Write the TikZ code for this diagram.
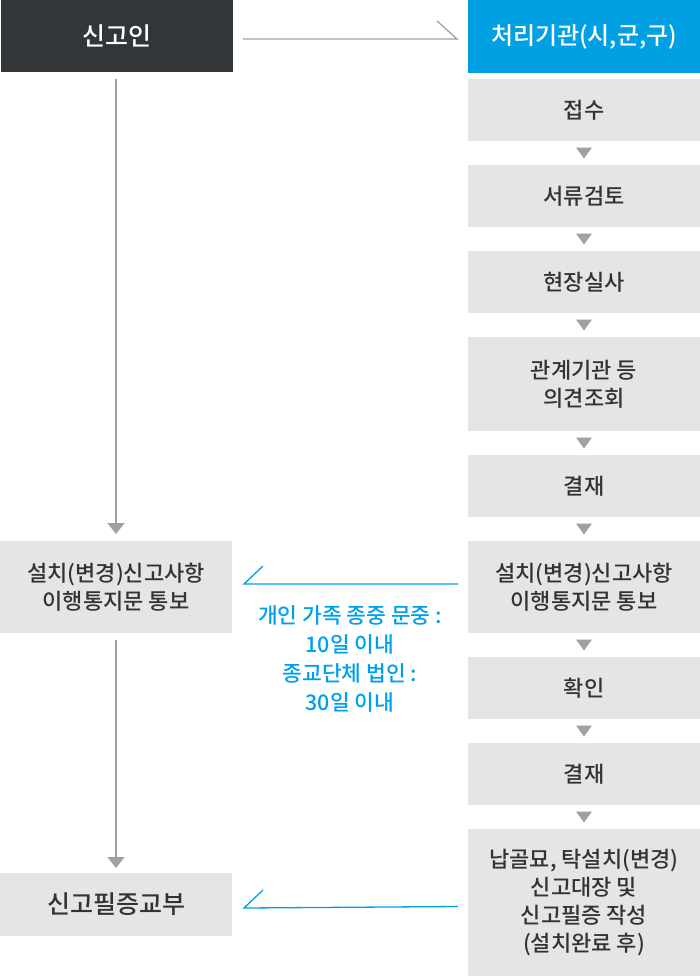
\documentclass[tikz,border=0pt]{standalone}
\usepackage{fontspec}
\setmainfont{Noto Sans CJK KR Medium}
\usetikzlibrary{arrows.meta,calc}
\definecolor{darkbox}{HTML}{333639}
\definecolor{bluebox}{HTML}{00A0E2}
\definecolor{graybox}{HTML}{E5E5E5}
\definecolor{arrowgray}{HTML}{A0A0A0}
\definecolor{txt}{HTML}{333333}
\definecolor{bluetxt}{HTML}{00A0E9}
\tikzset{
  box/.style={rectangle, inner sep=0pt, outer sep=0pt, minimum width=232pt, align=center,
    font=\fontsize{22}{28}\selectfont},
  titlebox/.style={box, text=white, font=\fontsize{24}{28}\selectfont},
  graystep/.style={box, fill=graybox, text=txt},
  garrow/.style={draw=arrowgray, line width=1.3pt, -{Triangle[width=17pt,length=11pt]}},
  gline/.style={draw=arrowgray, line width=1.3pt},
  bline/.style={draw=bluetxt, line width=1.3pt},
}
\newcommand{\downtri}[2]{\fill[arrowgray] ($(#1.south)!0.5!(#2.north)$) ++(-8,-5.5) -- ++(16,0) -- ++(-8,11) -- cycle;}
\begin{document}
\begin{tikzpicture}[x=1pt,y=-1pt]
\useasboundingbox (0,0) rectangle (700,980);
% top row
\node[titlebox, fill=darkbox, minimum height=72pt, font=\fontsize{25}{28}\selectfont] (sin) at (117,36) {신고인};
\node[titlebox, fill=bluebox, minimum height=73pt] (cheo) at (584,36.5) {처리기관(시,군,구)};
% right column
\node[graystep, minimum height=62pt] (r1) at (584,110) {접수};
\node[graystep, minimum height=62pt] (r2) at (584,196) {서류검토};
\node[graystep, minimum height=62pt] (r3) at (584,282) {현장실사};
\node[graystep, minimum height=94pt] (r4) at (584,384) {관계기관 등\\의견조회};
\node[graystep, minimum height=62pt] (r5) at (584,486) {결재};
\node[graystep, minimum height=92pt] (r6) at (584,587) {설치(변경)신고사항\\이행통지문 통보};
\node[graystep, minimum height=62pt] (r7) at (584,688) {확인};
\node[graystep, minimum height=62pt] (r8) at (584,774) {결재};
\node[graystep, minimum height=147pt] (r9) at (584,902.5) {납골묘, 탁설치(변경)\\신고대장 및\\신고필증 작성\\(설치완료 후)};
% left column
\node[graystep, minimum height=92pt] (l1) at (116,587) {설치(변경)신고사항\\이행통지문 통보};
\node[graystep, minimum height=63pt, font=\fontsize{25}{28}\selectfont] (l2) at (116,904.5) {신고필증교부};
% small triangles
\downtri{r1}{r2}
\downtri{r2}{r3}
\downtri{r3}{r4}
\downtri{r4}{r5}
\downtri{r5}{r6}
\downtri{r6}{r7}
\downtri{r7}{r8}
\downtri{r8}{r9}
% left arrows
\draw[garrow] ([xshift=-1pt,yshift=-7pt]sin.south) -- ([yshift=7pt]l1.north);
\draw[garrow] ([yshift=-7pt]l1.south) -- ([yshift=5pt]l2.north);
% top arrow
\draw[gline] ([xshift=10pt,yshift=-3pt]sin.east) coordinate (ta) -- ([xshift=-11pt,yshift=-2.5pt]cheo.west) coordinate (tb) -- ++(-20,-18);
% blue arrows
\draw[bline] ([xshift=-10pt,yshift=3pt]r6.west) -- ([xshift=12pt,yshift=3pt]l1.east) -- ++(19,-18);
\draw[bline] ([xshift=-10pt,yshift=-4pt]r9.west) -- ([xshift=12pt,yshift=-3.5pt]l2.east) -- ++(19,-18);
% blue note
\node[align=center, text=bluetxt, font=\fontsize{21.5}{29}\selectfont, inner sep=0pt] (note) at (350,659) {개인 가족 종중 문중 :\\10일 이내\\종교단체 법인 :\\30일 이내};
\end{tikzpicture}
\end{document}
